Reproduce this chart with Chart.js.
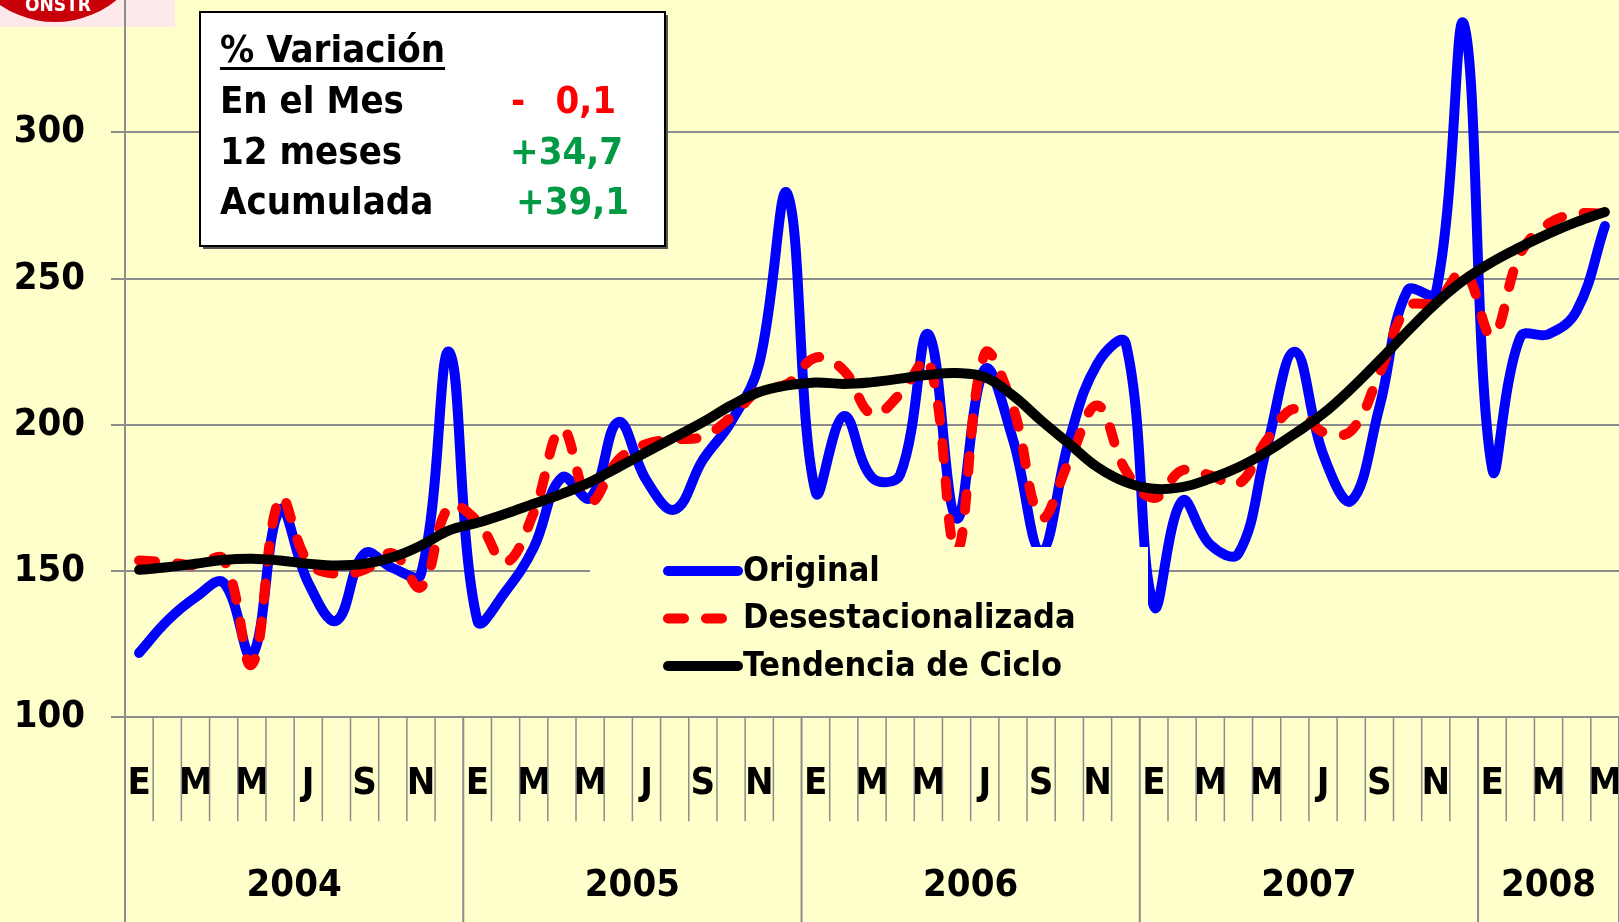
<!DOCTYPE html>
<html lang="es">
<head>
    <meta charset="UTF-8">
    <title>Índice - % Variación</title>
    <style>
        body { margin: 0; background: #ffffcc; }
        #chart-container { width: 1619px; height: 922px; }
    </style>
</head>
<body>
    <div id="chart-container">
        <canvas id="indiceChart" width="1619" height="922"></canvas>
    </div>
    <script src="https://cdn.jsdelivr.net/npm/chart.js"></script>
    <script>
        // datos: enero 2004 - mayo 2008
        const years = ['2004', '2005', '2006', '2007', '2008'];
        const monthLetters = ['E', 'F', 'M', 'A', 'M', 'J', 'J', 'A', 'S', 'O', 'N', 'D'];
        const monthsPerYear = [12, 12, 12, 12, 5];
        const yTicks = [100, 150, 200, 250, 300];

        const original = [
            122, 133, 141, 146, 121, 171, 146, 133, 156, 151, 149, 225,
            133, 143, 158, 182, 175, 201, 181, 171, 188, 201, 221, 279,
            177, 203, 182, 183, 231, 168, 219, 195, 157, 195, 221, 228,
            138, 174, 159, 156, 192, 225, 190, 174, 206, 246, 245, 337,
            185, 230, 231, 239, 268
        ];
        const desestacionalizada = [
            153.6, 153, 152, 154, 118, 175, 153, 149, 150.5, 156, 144.5, 172,
            167, 153, 170, 198.6, 174, 188, 193.5, 195, 196, 202.6, 211.8, 214,
            223, 218.6, 203.6, 210.6, 222, 157, 224.3, 206, 168.4, 187.8, 206.6, 184.4,
            175, 184.4, 182.7, 179.8, 194.7, 205.5, 197.5, 198, 217.5, 240.3, 242, 252.3,
            230.6, 258.6, 268.8, 272.2, 272.2
        ];
        const tendencia = [
            150.4, 151.3, 152.5, 153.8, 154.2, 153.6, 152.5, 151.9, 152.5, 154.7, 158.7, 163.9,
            166.5, 169.6, 173, 176.4, 180.4, 185.5, 190.7, 195.8, 200.9, 206.6, 211.2, 213.5,
            214.5, 214, 214.6, 215.8, 217.1, 217.7, 216.3, 210, 201.5, 193.5, 185.5, 180.4,
            178.1, 178.7, 181.6, 185.5, 190.7, 197, 203.8, 212.4, 222, 232, 241.5, 249.5,
            255.7, 260.8, 265.4, 269.4, 272.8
        ];

        const variacionTitulo = '% Variación';
        const variacionLabels = ['En el Mes', '12 meses', 'Acumulada'];
        const variacionSignos = ['-', '+', '+'];
        const variacionValues = ['0,1', '34,7', '39,1'];
        const variacionColors = ['#ff0000', '#009a44', '#009a44'];

        const labels = [];
        years.forEach((y, yi) => {
            for (let m = 0; m < monthsPerYear[yi]; m++) labels.push(monthLetters[m] + ' ' + y);
        });

        const FONT = "'DejaVu Sans Condensed', 'DejaVu Sans', sans-serif";
        const GRID = '#8c8c8c';
        const BG = '#ffffcc';

        const fondo = {
            id: 'fondo',
            beforeDraw(chart) {
                const ctx = chart.ctx;
                ctx.save();
                ctx.fillStyle = BG;
                ctx.fillRect(0, 0, chart.width, chart.height);
                // logo cortado arriba a la izquierda
                ctx.fillStyle = '#fde8ea';
                ctx.fillRect(0, 0, 175, 27);
                ctx.beginPath();
                ctx.arc(55, -75, 97, 0, Math.PI * 2);
                ctx.fillStyle = '#c8000a';
                ctx.fill();
                ctx.fillStyle = '#ffffff';
                ctx.font = 'bold 19px ' + FONT;
                ctx.textAlign = 'center';
                ctx.textBaseline = 'middle';
                ctx.fillText('ONSTR', 58, 6);
                ctx.restore();
            }
        };

        const ejeMeses = {
            id: 'ejeMeses',
            beforeDatasetsDraw(chart) {
                const ctx = chart.ctx;
                const x = chart.scales.x;
                const area = chart.chartArea;
                const half = (x.getPixelForValue(1) - x.getPixelForValue(0)) / 2;
                ctx.save();
                ctx.strokeStyle = GRID;
                let first = 0;
                const yearStarts = [];
                monthsPerYear.forEach(n => { yearStarts.push(first); first += n; });
                for (let i = 0; i <= labels.length; i++) {
                    const px = x.getPixelForValue(i) - half;
                    const isYear = yearStarts.includes(i) || i === labels.length;
                    ctx.lineWidth = isYear ? 2 : 1.5;
                    ctx.beginPath();
                    ctx.moveTo(px, area.bottom);
                    ctx.lineTo(px, isYear ? chart.height : area.bottom + 104);
                    ctx.stroke();
                }
                ctx.fillStyle = '#000';
                ctx.font = 'bold 38px ' + FONT;
                ctx.textAlign = 'center';
                ctx.textBaseline = 'middle';
                years.forEach((y, yi) => {
                    const a = x.getPixelForValue(yearStarts[yi]) - half;
                    const b = x.getPixelForValue(yearStarts[yi] + monthsPerYear[yi] - 1) + half;
                    ctx.fillText(y, (a + b) / 2, 886);
                });
                ctx.restore();
            }
        };

        const leyenda = {
            id: 'leyenda',
            afterDatasetsDraw(chart) {
                const ctx = chart.ctx;
                ctx.save();
                ctx.fillStyle = BG;
                ctx.fillRect(590, 547, 558, 150);
                const items = chart.data.datasets.slice().sort((a, b) => b.order - a.order);
                items.forEach((ds, k) => {
                    const y = 571 + k * 47.5;
                    ctx.strokeStyle = ds.borderColor;
                    ctx.lineWidth = ds.borderWidth;
                    ctx.lineCap = 'round';
                    ctx.setLineDash(ds.borderDash || []);
                    ctx.beginPath();
                    ctx.moveTo(668, y);
                    ctx.lineTo(738, y);
                    ctx.stroke();
                    ctx.setLineDash([]);
                    ctx.fillStyle = '#000';
                    ctx.font = 'bold 34px ' + FONT;
                    ctx.textAlign = 'left';
                    ctx.textBaseline = 'middle';
                    ctx.fillText(ds.label, 743, y + 1);
                });
                ctx.restore();
            }
        };

        const cuadroVariacion = {
            id: 'cuadroVariacion',
            afterDraw(chart) {
                const ctx = chart.ctx;
                ctx.save();
                ctx.fillStyle = '#555';
                ctx.fillRect(203, 15, 465, 234);
                ctx.fillStyle = '#fff';
                ctx.fillRect(200, 12, 465, 234);
                ctx.strokeStyle = '#000';
                ctx.lineWidth = 2;
                ctx.strokeRect(200, 12, 465, 234);
                ctx.font = 'bold 38px ' + FONT;
                ctx.textBaseline = 'alphabetic';
                ctx.textAlign = 'left';
                ctx.fillStyle = '#000';
                ctx.fillText(variacionTitulo, 220, 62);
                const w = ctx.measureText(variacionTitulo).width;
                ctx.fillRect(220, 67, w, 3);
                variacionLabels.forEach((t, i) => {
                    const y = 113 + i * 50.5;
                    ctx.fillStyle = '#000';
                    ctx.textAlign = 'left';
                    ctx.fillText(t, 220, y);
                    ctx.fillStyle = variacionColors[i];
                    if (i === 0) {
                        ctx.fillText(variacionSignos[i], 511, y);
                        ctx.textAlign = 'right';
                        ctx.fillText(variacionValues[i], 616, y);
                    } else {
                        ctx.fillText(variacionSignos[i] + variacionValues[i], i === 1 ? 510 : 516, y);
                    }
                });
                ctx.restore();
            }
        };

        const ctx = document.getElementById('indiceChart').getContext('2d');
        const chart = new Chart(ctx, {
            type: 'line',
            data: {
                labels: labels,
                datasets: [{
                    label: 'Original',
                    data: original,
                    borderColor: '#0000ff',
                    borderWidth: 10,
                    order: 3
                }, {
                    label: 'Desestacionalizada',
                    data: desestacionalizada,
                    borderColor: '#ff0000',
                    borderWidth: 10,
                    borderDash: [16, 22],
                    borderCapStyle: 'round',
                    order: 2
                }, {
                    label: 'Tendencia de Ciclo',
                    data: tendencia,
                    borderColor: '#000000',
                    borderWidth: 10,
                    order: 1
                }]
            },
            options: {
                responsive: false,
                animation: false,
                layout: { padding: 0 },
                elements: {
                    point: { radius: 0 },
                    line: { tension: 0.4, fill: false, borderJoinStyle: 'round', borderCapStyle: 'round' }
                },
                plugins: {
                    legend: { display: false },
                    tooltip: { enabled: false }
                },
                scales: {
                    x: {
                        offset: true,
                        grid: { display: false },
                        border: { display: false },
                        ticks: {
                            autoSkip: false,
                            maxRotation: 0,
                            padding: 36,
                            color: '#000',
                            font: { family: FONT, size: 38, weight: 'bold' },
                            callback: (v, i) => i % 2 === 0 ? monthLetters[i % 12] : ''
                        },
                        afterFit: s => { s.height = 204.8; s.paddingLeft = 0; s.paddingRight = 0; }
                    },
                    y: {
                        min: 100,
                        max: 345.3,
                        grid: { color: GRID, lineWidth: 2, tickLength: 14 },
                        border: { color: GRID, width: 2 },
                        ticks: {
                            padding: 26,
                            color: '#000',
                            font: { family: FONT, size: 38, weight: 'bold' }
                        },
                        afterBuildTicks: s => { s.ticks = yTicks.map(v => ({ value: v })); },
                        afterFit: s => { s.width = 125; s.paddingTop = 0; s.paddingBottom = 0; }
                    }
                }
            },
            plugins: [fondo, ejeMeses, leyenda, cuadroVariacion]
        });
    </script>
</body>
</html>
